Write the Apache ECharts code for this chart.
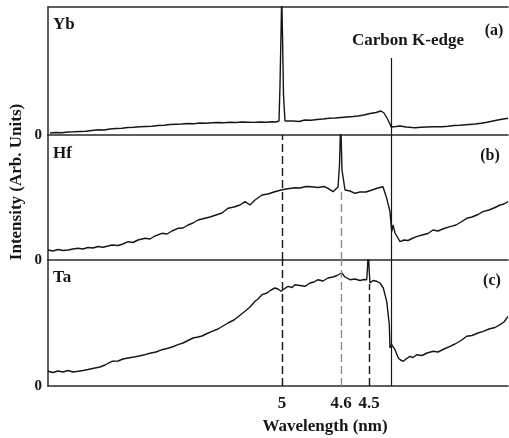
<!DOCTYPE html>
<html>
<head>
<meta charset="utf-8">
<script src="https://cdn.jsdelivr.net/npm/echarts@6.0.0/dist/echarts.min.js"></script>
<style>
    html, body {margin: 0; padding: 0; background: #fff;}
    #chart {width: 509px; height: 438px;}
</style>
</head>
<body>
<div id="chart"></div>
<script>
// x is the detector channel across the plot, wavelength decreases to the right
var xRange = [0, 460];
var tickPos = [234, 293, 321];
var tickLabels = ['5', '4.6', '4.5'];
var kEdgePos = 343;

var panelNames = ['Yb', 'Hf', 'Ta'];
var panelTags = ['(a)', '(b)', '(c)'];
var yMax = [128, 125, 126];

// Yb spectrum (a)
var ybData = [
    [2,2],[8,2.5],[14,2.2],[20,3],[26,3.2],[32,3.5],[38,3.8],[44,4.5],[50,5.2],[56,5],
    [62,6],[68,6.5],[74,6.8],[80,7.5],[86,7.8],[92,8.2],[98,8.5],[104,8.8],[110,9.5],[116,9.8],
    [122,10.5],[128,10.8],[134,11],[140,11.5],[146,11.2],[152,12],[158,11.8],[164,12.3],[170,12.5],[176,12.2],
    [182,12.8],[188,12.5],[194,13],[200,12.8],[206,12.6],[212,13],[218,12.8],[224,13.2],[228,13],
    [231,14],[232,50],[233,100],[233.7,140],[234.5,100],[235.5,40],[237,14],
    [239,13.3],[245,14],[251,13.5],[257,15],[263,14.8],[269,15.5],[275,16],[281,16.7],[287,17],[293,17.5],
    [299,18],[305,18.5],[310,19],[316,20],[322,21.5],[328,22.5],[333,24],[336,22],[339,17],[342,11],
    [343,8],[345,9.5],[348,8.5],[352,9],[358,8],[364,7.5],[367,7.3],[373,7.8],[379,8],[385,8.2],
    [394,8.3],[400,8.8],[406,9.5],[412,9.8],[418,10.3],[427,11],[433,11.8],[439,12.8],[445,14],[451,15.2],
    [457,16.2],[460,16.7]
];

// Hf spectrum (b)
var hfData = [
    [0,10],[5,9],[10,10.5],[15,9.5],[20,10],[25,11],[30,11.7],[35,11],[40,12.5],[45,12],
    [50,13.5],[55,12.8],[60,14],[64,15],[70,14.5],[75,16],[80,18.3],[85,17.5],[90,20],[97,21.7],
    [102,21],[107,24],[114,26.7],[119,26],[124,29],[130,31.7],[135,32],[140,35],[145,37],[150,40],
    [156,41.5],[162,43],[168,45],[174,47],[180,51.7],[186,53],[192,55],[197,58.3],[202,55],[207,60],
    [214,65],[220,66],[226,68],[233,70],[238,71],[247,72.3],[252,72],[258,73.5],[264,73.3],[270,72.5],
    [276,73.5],[280,71.7],[285,68.3],[290,73],[291.5,95],[292.7,140],[294,90],[297,70],[302,69],[307,66.7],
    [312,68],[318,68],[324,70],[330,72],[335,73.3],[338.7,61.7],[342,48.3],[343.7,28.3],[345,35],[347,27],
    [348.7,25],[350.5,21],[352,18.3],[356,20],[360,19.5],[364,21.5],[368.7,23.3],[374,25],[380,26.5],[385,30],
    [390,29],[396,31.5],[402,33.3],[408,35],[413,38],[418.7,41.7],[424,43],[430,45.5],[435,48.3],[441,50],
    [447,52.5],[452,55],[456,56],[460,58.3]
];

// Ta spectrum (c)
var taData = [
    [0,14.7],[5,13.5],[10,15],[15,14],[20,15.5],[25,14],[30,14.7],[35,15.5],[40,16.5],[47,18],
    [52,19],[57,21],[64,24.7],[70,25],[75,27],[80,28],[86,29],[91,30],[97,31.3],[103,33],
    [108,34],[114,36.3],[119,37.5],[124,39],[130,41.3],[135,43],[140,45.5],[145,48],[150,49],[154,50],
    [158,52],[164,54.7],[170,57],[175,60],[180,63],[186,66],[191,70],[197,74.7],[202,79],[207,84.7],
    [210,87],[214,91.3],[219,93],[223,96],[227,98],[230,97],[233,94.7],[236,97],[240,99.7],[244,98.5],
    [247,101.3],[252,100.5],[257,99.7],[262,103],[266,104],[270,106.3],[275,105],[280,108],[285,109],[289,110.5],
    [293.7,113],[297,109],[302,106.3],[307,107],[312,105.5],[316,106.5],[318.7,106.3],[319.5,118],[320.3,140],[321.2,115],
    [322,103],[325,105.5],[328.7,104.7],[332,103],[335.3,98],[338.7,84.7],[341.3,61.3],[342,38],[343.7,41.3],[345,43],
    [347,36.3],[350.3,28],[352.5,26],[355.3,24.7],[358,27],[362,29.7],[365,28.5],[368.7,31.3],[374,30.5],[379,33],
    [385.3,34.7],[390,34],[396,37],[402,39.7],[407,42],[413,45.5],[418.7,49.7],[424,50.5],[430,53],[435.3,54.7],
    [441,57],[447,58.5],[452,61.3],[456,64],[460,69.7]
];

var fontFam = '"Liberation Serif", "Times New Roman", serif';
var ink = '#161616';
var axisStyle = {color: '#2a2a2a', width: 1.5};

var grids = [
    {left: 48, top: 7, width: 460, height: 128},
    {left: 48, top: 135, width: 460, height: 125},
    {left: 48, top: 260, width: 460, height: 126}
];

function vLine(x, y0, y1, dashed, color) {
    return [
        {coord: [x, y0], lineStyle: {color: color || ink, width: dashed ? 1.4 : 1.2, type: dashed ? [8, 4] : 'solid'}},
        {coord: [x, y1]}
    ];
}

var xAxes = [];
var yAxes = [];
for (var i = 0; i < 3; i++) {
    xAxes.push({
        type: 'value', gridIndex: i, min: xRange[0], max: xRange[1],
        axisLine: {show: true, onZero: false, lineStyle: axisStyle},
        axisTick: {show: false},
        splitLine: {show: false},
        axisLabel: i < 2 ? {show: false} : {
            show: true, customValues: tickPos, margin: 9,
            fontFamily: fontFam, fontWeight: 'bold', fontSize: 17, color: ink,
            formatter: function (v) {
                var k = tickPos.indexOf(v);
                return k >= 0 ? tickLabels[k] : '';
            }
        }
    });
    yAxes.push({
        type: 'value', gridIndex: i, min: 0, max: yMax[i],
        axisLine: {show: true, onZero: false, lineStyle: axisStyle},
        axisTick: {show: false},
        splitLine: {show: false},
        axisLabel: {
            show: true, customValues: [0], margin: 6,
            fontFamily: fontFam, fontWeight: 'bold', fontSize: 15, color: ink
        }
    });
}
// top border of the upper panel
xAxes.push({
    type: 'value', gridIndex: 0, position: 'top', min: xRange[0], max: xRange[1],
    axisLine: {show: true, onZero: false, lineStyle: axisStyle},
    axisTick: {show: false}, axisLabel: {show: false}, splitLine: {show: false}
});

function spectrum(idx, data, lines) {
    return {
        type: 'line', xAxisIndex: idx, yAxisIndex: idx, data: data,
        showSymbol: false, smooth: false, clip: true,
        lineStyle: {color: ink, width: 1.4},
        markLine: {silent: true, symbol: ['none', 'none'], label: {show: false}, data: lines}
    };
}

var series = [
    spectrum(0, ybData, [vLine(kEdgePos, 0, 77, false)]),
    spectrum(1, hfData, [
        vLine(tickPos[0], 0, yMax[1], true),
        vLine(tickPos[1], 0, 72, true, '#8c8c8c'),
        vLine(kEdgePos, 0, yMax[1], false)
    ]),
    spectrum(2, taData, [
        vLine(tickPos[0], 0, yMax[2], true),
        vLine(tickPos[1], 0, yMax[2], true, '#8c8c8c'),
        vLine(tickPos[2], 0, 102, true),
        vLine(kEdgePos, 0, yMax[2], false)
    ])
];

function txt(s, x, y, align, size, rot) {
    return {
        type: 'text', x: x, y: y, rotation: rot || 0, silent: true,
        style: {
            text: s, fill: ink, align: align, verticalAlign: 'middle',
            font: 'bold ' + (size || 17) + 'px ' + fontFam
        }
    };
}

var labelY = [25, 154, 278];
var tagPos = [[494, 31], [490, 156], [492, 281]];
var graphics = [
    txt('Carbon K-edge', 408, 41, 'center', 17),
    txt('Wavelength (nm)', 325, 427, 'center', 17),
    txt('Intensity (Arb. Units)', 17, 182, 'center', 17, Math.PI / 2)
];
for (var j = 0; j < 3; j++) {
    graphics.push(txt(panelNames[j], 53, labelY[j], 'left', 17));
    graphics.push(txt(panelTags[j], tagPos[j][0], tagPos[j][1], 'center', 16));
}

var chart = echarts.init(document.getElementById('chart'));
chart.setOption({
    animation: false,
    backgroundColor: '#fff',
    grid: grids,
    xAxis: xAxes,
    yAxis: yAxes,
    series: series,
    graphic: graphics
});
</script>
</body>
</html>
